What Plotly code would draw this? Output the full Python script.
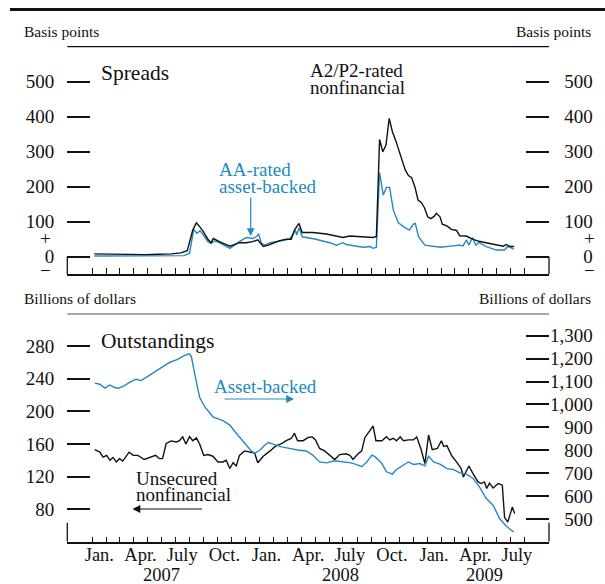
import plotly.graph_objects as go

# ---------------- data ----------------
a2p2_dates = ["2007-01-05","2007-02-02","2007-03-02","2007-03-30","2007-04-27","2007-05-25","2007-06-22","2007-07-13","2007-07-27","2007-08-08","2007-08-16","2007-08-23","2007-08-30","2007-09-10","2007-09-17","2007-09-22","2007-10-05","2007-10-28","2007-11-18","2007-12-03","2007-12-17","2007-12-28","2008-01-09","2008-01-20","2008-01-31","2008-02-14","2008-02-28","2008-03-10","2008-03-17","2008-03-27","2008-04-03","2008-04-26","2008-05-26","2008-06-17","2008-07-01","2008-07-16","2008-08-07","2008-08-22","2008-09-05","2008-09-12","2008-09-19","2008-09-26","2008-10-03","2008-10-10","2008-10-17","2008-10-24","2008-10-31","2008-11-07","2008-11-14","2008-11-21","2008-11-28","2008-12-05","2008-12-12","2008-12-19","2008-12-26","2009-01-02","2009-01-09","2009-01-16","2009-01-21","2009-01-29","2009-02-03","2009-02-13","2009-02-23","2009-03-06","2009-03-13","2009-03-27","2009-04-10","2009-04-24","2009-05-08","2009-05-22","2009-06-05","2009-06-16","2009-06-23","2009-06-30","2009-07-10"]
a2p2_spread = [8,7,6,7,6,7,8,11,17,76,97,86,74,50,40,52,43,30,40,40,43,48,29,33,38,46,50,50,76,95,69,69,65,59,55,59,57,55,55,58,335,300,319,395,357,333,305,276,248,232,226,200,162,155,140,114,109,115,124,114,93,88,78,75,60,59,50,44,40,37,33,30,35,29,29]

aa_dates = ["2007-01-05","2007-02-02","2007-03-02","2007-03-30","2007-04-27","2007-05-25","2007-06-22","2007-07-20","2007-08-01","2007-08-10","2007-08-17","2007-08-24","2007-08-30","2007-09-10","2007-09-17","2007-09-24","2007-10-05","2007-10-28","2007-11-18","2007-12-03","2007-12-17","2007-12-24","2007-12-30","2008-01-05","2008-01-12","2008-01-24","2008-02-14","2008-03-06","2008-03-13","2008-03-19","2008-03-22","2008-03-27","2008-04-03","2008-05-03","2008-06-02","2008-06-17","2008-07-01","2008-07-08","2008-08-14","2008-08-29","2008-09-05","2008-09-12","2008-09-19","2008-09-27","2008-10-04","2008-10-11","2008-10-19","2008-10-30","2008-11-10","2008-11-23","2008-12-02","2008-12-06","2008-12-13","2008-12-27","2009-01-30","2009-03-13","2009-03-20","2009-03-28","2009-04-02","2009-04-10","2009-04-17","2009-04-24","2009-05-10","2009-06-01","2009-06-19","2009-06-26","2009-07-09"]
aa_spread = [2,2,1,2,1,2,2,3,10,78,67,74,64,43,38,45,40,24,43,55,52,57,64,38,33,40,45,50,62,76,62,83,57,50,40,33,40,35,27,29,24,27,240,176,198,198,133,97,86,76,93,95,57,33,27,33,31,48,33,55,33,41,29,19,19,30,22]

abs_dates = ["2007-01-06","2007-01-17","2007-01-28","2007-02-08","2007-02-18","2007-02-27","2007-03-11","2007-03-22","2007-04-06","2007-04-17","2007-05-01","2007-05-19","2007-06-03","2007-06-18","2007-07-06","2007-07-20","2007-08-01","2007-08-05","2007-08-12","2007-08-23","2007-09-03","2007-09-21","2007-10-13","2007-10-28","2007-11-11","2007-11-29","2007-12-12","2007-12-21","2008-01-02","2008-01-12","2008-01-20","2008-01-31","2008-02-18","2008-03-06","2008-03-24","2008-04-12","2008-04-26","2008-05-11","2008-05-26","2008-06-13","2008-07-01","2008-07-19","2008-08-03","2008-08-11","2008-08-22","2008-09-02","2008-09-09","2008-09-24","2008-10-04","2008-10-17","2008-10-26","2008-11-07","2008-11-21","2008-12-02","2008-12-16","2008-12-27","2009-01-04","2009-01-15","2009-01-30","2009-02-13","2009-02-27","2009-03-13","2009-03-28","2009-04-11","2009-04-25","2009-05-10","2009-05-25","2009-06-08","2009-06-23","2009-07-09"]
abs_outstanding = [1093,1088,1071,1085,1074,1071,1081,1095,1110,1104,1121,1143,1165,1183,1197,1213,1221,1209,1136,1031,990,946,929,910,874,833,801,786,801,822,834,827,815,808,801,797,779,749,745,754,749,745,735,728,749,779,772,742,706,696,716,731,749,738,742,732,774,749,738,720,716,701,696,677,640,589,560,502,468,443]

unsec_dates = ["2007-01-06","2007-01-17","2007-01-24","2007-02-01","2007-02-08","2007-02-15","2007-02-22","2007-03-01","2007-03-08","2007-03-15","2007-03-22","2007-03-31","2007-04-10","2007-04-24","2007-05-09","2007-05-19","2007-05-27","2007-06-03","2007-06-11","2007-06-22","2007-07-03","2007-07-10","2007-07-17","2007-07-24","2007-08-01","2007-08-08","2007-08-16","2007-08-23","2007-09-01","2007-09-10","2007-09-21","2007-10-02","2007-10-13","2007-10-20","2007-10-28","2007-11-04","2007-11-11","2007-11-18","2007-11-29","2007-12-10","2007-12-21","2007-12-28","2008-01-09","2008-01-24","2008-02-04","2008-02-18","2008-02-28","2008-03-10","2008-03-17","2008-03-24","2008-04-05","2008-04-16","2008-04-25","2008-05-02","2008-05-11","2008-05-22","2008-06-02","2008-06-13","2008-06-24","2008-07-08","2008-07-16","2008-07-23","2008-08-03","2008-08-11","2008-08-18","2008-08-25","2008-09-02","2008-09-05","2008-09-11","2008-09-24","2008-10-04","2008-10-11","2008-10-19","2008-10-26","2008-11-03","2008-11-10","2008-11-21","2008-12-02","2008-12-09","2008-12-18","2008-12-27","2009-01-04","2009-01-12","2009-01-23","2009-02-01","2009-02-06","2009-02-13","2009-02-23","2009-03-06","2009-03-16","2009-03-21","2009-04-02","2009-04-11","2009-04-22","2009-04-29","2009-05-06","2009-05-11","2009-05-17","2009-05-25","2009-06-05","2009-06-14","2009-06-19","2009-06-26","2009-07-06","2009-07-11"]
unsec_outstanding = [153,150,144,146,140,143.5,138,142,139,144,150,146,146,141,144,146,142,142,160.6,163.8,162.5,164,168.7,160,169,164,167.5,160,146,147,145,138,138,140,130,137,133,146,151.5,150,149,137,145,151.5,157,160.5,164,166.7,173,164,164,168,168.7,165,154.5,151.5,146,141,147,148,146,141,148,151.5,168,173,180,182,164,164,169,165,167,164,168.7,164,165,165,168.7,154.5,136,171,153,154.5,164,157,158,146,138,130,119.6,133,123.7,113.5,111.5,113.5,105.4,112,106,111.5,109.5,69.8,64.4,82.8,74.7]

month_ticks = ["2007-%02d-01" % m for m in range(1, 13)] + ["2008-%02d-01" % m for m in range(1, 13)] + ["2009-%02d-01" % m for m in range(1, 9)]
long_ticks = ["2007-01-01", "2008-01-01", "2009-01-01", "2009-07-01"]
label_dates = ["2007-01-16","2007-04-16","2007-07-16","2007-10-16","2008-01-16","2008-04-16","2008-07-16","2008-10-16","2009-01-16","2009-04-16","2009-07-16"]
label_text = ["Jan.","Apr.","July","Oct.","Jan.","Apr.","July","Oct.","Jan.","Apr.","July"]
year_dates = ["2007-05-31", "2008-06-26", "2009-05-07"]
year_text = ["2007", "2008", "2009"]

spread_ticks = [0, 100, 200, 300, 400, 500]
unsec_ticks = [80, 120, 160, 200, 240, 280]
abs_ticks = [500, 600, 700, 800, 900, 1000, 1100, 1200, 1300]

# ---------------- styling ----------------
W, H = 605, 584
FONT = "Liberation Serif"
BLUE = "#2389c4"
BLACK = "#111111"
NB = "\u00a0"

def px_x(p):
    return p / W

def px_y(p):
    return 1 - p / H

XR = ["2006-11-07", "2009-09-24"]
XDOM = [px_x(67.3), px_x(549)]
TOP_DOM = [px_y(274), px_y(46.7)]
BOT_DOM = [px_y(541.7), px_y(314)]
SP_RANGE = [-49.4, 600]
UN_RANGE = [40.3, 319.2]
AB_RANGE = [400.9, 1394.7]

fig = go.Figure()
fig.add_trace(go.Scatter(x=aa_dates, y=aa_spread, mode="lines", line=dict(color=BLUE, width=1.4), xaxis="x", yaxis="y", hoverinfo="skip"))
fig.add_trace(go.Scatter(x=a2p2_dates, y=a2p2_spread, mode="lines", line=dict(color=BLACK, width=1.4), xaxis="x", yaxis="y2", hoverinfo="skip"))
fig.add_trace(go.Scatter(x=abs_dates, y=abs_outstanding, mode="lines", line=dict(color=BLUE, width=1.4), xaxis="x2", yaxis="y4", hoverinfo="skip"))
fig.add_trace(go.Scatter(x=unsec_dates, y=unsec_outstanding, mode="lines", line=dict(color=BLACK, width=1.4), xaxis="x2", yaxis="y3", hoverinfo="skip"))
# empty carrier so the month-label axis (x3) is drawn
fig.add_trace(go.Scatter(x=label_dates, y=[None] * len(label_dates), mode="lines", xaxis="x3", yaxis="y3", hoverinfo="skip"))

tickfont = dict(family=FONT, size=19, color=BLACK)

def xaxis_common(anchor, longlen, shortlen):
    return dict(domain=XDOM, anchor=anchor, type="date", range=XR,
                showline=True, linecolor=BLACK, linewidth=1.5,
                tickmode="array", tickvals=long_ticks, ticktext=[""] * len(long_ticks),
                ticks="inside", ticklen=longlen, tickwidth=1.3, tickcolor=BLACK,
                minor=dict(tickmode="array", tickvals=month_ticks, ticks="inside",
                           ticklen=shortlen, tickwidth=1.2, tickcolor=BLACK, showgrid=False),
                showgrid=False, zeroline=False, showticklabels=False)

def pad(s, n):
    return NB * n + s

fig.update_layout(
    width=W, height=H, margin=dict(l=0, r=0, t=0, b=0),
    paper_bgcolor="white", plot_bgcolor="white", showlegend=False,
    font=dict(family=FONT, color=BLACK),
    xaxis=xaxis_common("y", 17.5, 6),
    xaxis2=xaxis_common("y3", 14.5, 5),
    xaxis3=dict(overlaying="x2", anchor="y3", type="date", range=XR, matches="x2",
                tickmode="array", tickvals=label_dates, ticktext=label_text,
                ticks="", showline=False, showgrid=False, zeroline=False,
                tickfont=dict(family=FONT, size=18.5, color=BLACK)),
    yaxis=dict(domain=TOP_DOM, anchor="x", range=SP_RANGE, tickmode="array",
               tickvals=spread_ticks, ticktext=[str(v) for v in spread_ticks],
               ticks="inside", ticklen=23, tickwidth=1.5, tickcolor=BLACK,
               showline=False, showgrid=False, zeroline=False, tickfont=tickfont,
               ticklabelstandoff=12),
    yaxis2=dict(overlaying="y", side="right", anchor="x", range=SP_RANGE, matches="y", tickmode="array",
                tickvals=spread_ticks, ticktext=[pad(str(v), 7 if v == 0 else 3) for v in spread_ticks],
                ticks="inside", ticklen=23, tickwidth=1.5, tickcolor=BLACK,
                showline=False, showgrid=False, zeroline=False, tickfont=tickfont,
                ticklabelstandoff=0),
    yaxis3=dict(domain=BOT_DOM, anchor="x2", range=UN_RANGE, tickmode="array",
                tickvals=unsec_ticks, ticktext=[str(v) for v in unsec_ticks],
                ticks="inside", ticklen=23, tickwidth=1.5, tickcolor=BLACK,
                showline=False, showgrid=False, zeroline=False, tickfont=tickfont,
                ticklabelstandoff=12),
    yaxis4=dict(overlaying="y3", side="right", anchor="x2", range=AB_RANGE, tickmode="array",
                tickvals=abs_ticks, ticktext=["{:,}".format(v) if v >= 1000 else pad(str(v), 3) for v in abs_ticks],
                ticks="inside", ticklen=23, tickwidth=1.5, tickcolor=BLACK,
                showline=False, showgrid=False, zeroline=False, tickfont=tickfont,
                ticklabelstandoff=0),
)

shapes = [
    dict(type="line", xref="paper", yref="paper", x0=px_x(10), x1=1, y0=px_y(9.5), y1=px_y(9.5), line=dict(color=BLACK, width=3)),
    dict(type="line", xref="x domain", yref="y domain", x0=0, x1=1, y0=1, y1=1, line=dict(color=BLACK, width=1.2)),
    dict(type="line", xref="x2 domain", yref="y3 domain", x0=0, x1=1, y0=1, y1=1, line=dict(color="#555555", width=1.2)),
    dict(type="line", xref="x domain", yref="y", x0=0, x1=0, y0=0, y1=SP_RANGE[0], line=dict(color=BLACK, width=1.3)),
    dict(type="line", xref="x domain", yref="y", x0=1, x1=1, y0=0, y1=SP_RANGE[0], line=dict(color=BLACK, width=1.3)),
    dict(type="line", xref="x2 domain", yref="y3", x0=0, x1=0, y0=63.6, y1=UN_RANGE[0], line=dict(color=BLACK, width=1.3)),
    dict(type="line", xref="x2 domain", yref="y3", x0=1, x1=1, y0=63.6, y1=UN_RANGE[0], line=dict(color=BLACK, width=1.3)),
]
fig.update_layout(shapes=shapes)

ann = []

def txt(x, y, s, size, color=BLACK, xanchor="left", yanchor="middle"):
    ann.append(dict(xref="paper", yref="paper", x=px_x(x), y=px_y(y), text=s, showarrow=False,
                    xanchor=xanchor, yanchor=yanchor, font=dict(family=FONT, size=size, color=color)))

txt(22, 31, "Basis points", 15.5)
txt(593, 31, "Basis points", 15.5, xanchor="right")
txt(22, 298.3, "Billions of dollars", 15.5)
txt(593, 298.3, "Billions of dollars", 15.5, xanchor="right")
for xx in (45.7, 589):
    txt(xx, 238.3, "+", 19, xanchor="center")
    txt(xx, 270.7, "\u2212", 19, xanchor="center")
txt(99, 72.5, "Spreads", 21.5)
txt(99, 340.5, "Outstandings", 21.5)
txt(307.5, 71, "A2/P2-rated", 19)
txt(307.5, 88, "nonfinancial", 19)
txt(217, 169.5, "AA-rated", 19, color=BLUE)
txt(217, 186.5, "asset-backed", 19, color=BLUE)
txt(211.5, 386.7, "Asset-backed", 19, color=BLUE)
txt(134, 478.3, "Unsecured", 19)
txt(134, 494.5, "nonfinancial", 19)

def arrow(x_tip, y_tip, x_tail, y_tail, color):
    ann.append(dict(xref="paper", yref="paper", x=px_x(x_tip), y=px_y(y_tip),
                    axref="pixel", ayref="pixel", ax=x_tail - x_tip, ay=y_tail - y_tip,
                    text="", showarrow=True, arrowhead=2, arrowsize=1.3, arrowwidth=1.2,
                    arrowcolor=color))

arrow(250.7, 236, 250.7, 196, BLUE)
arrow(294, 399, 223, 399, BLUE)
arrow(132.5, 509, 203.5, 509, BLACK)

for d, t in zip(year_dates, year_text):
    ann.append(dict(xref="x2", yref="paper", x=d, y=px_y(575), text=t, showarrow=False,
                    xanchor="center", yanchor="middle", font=dict(family=FONT, size=18.5, color=BLACK)))

fig.update_layout(annotations=ann)

fig.write_html("out.html", config={"displayModeBar": False},
               post_script="document.body.style.margin='0';document.body.style.overflow='hidden';")
